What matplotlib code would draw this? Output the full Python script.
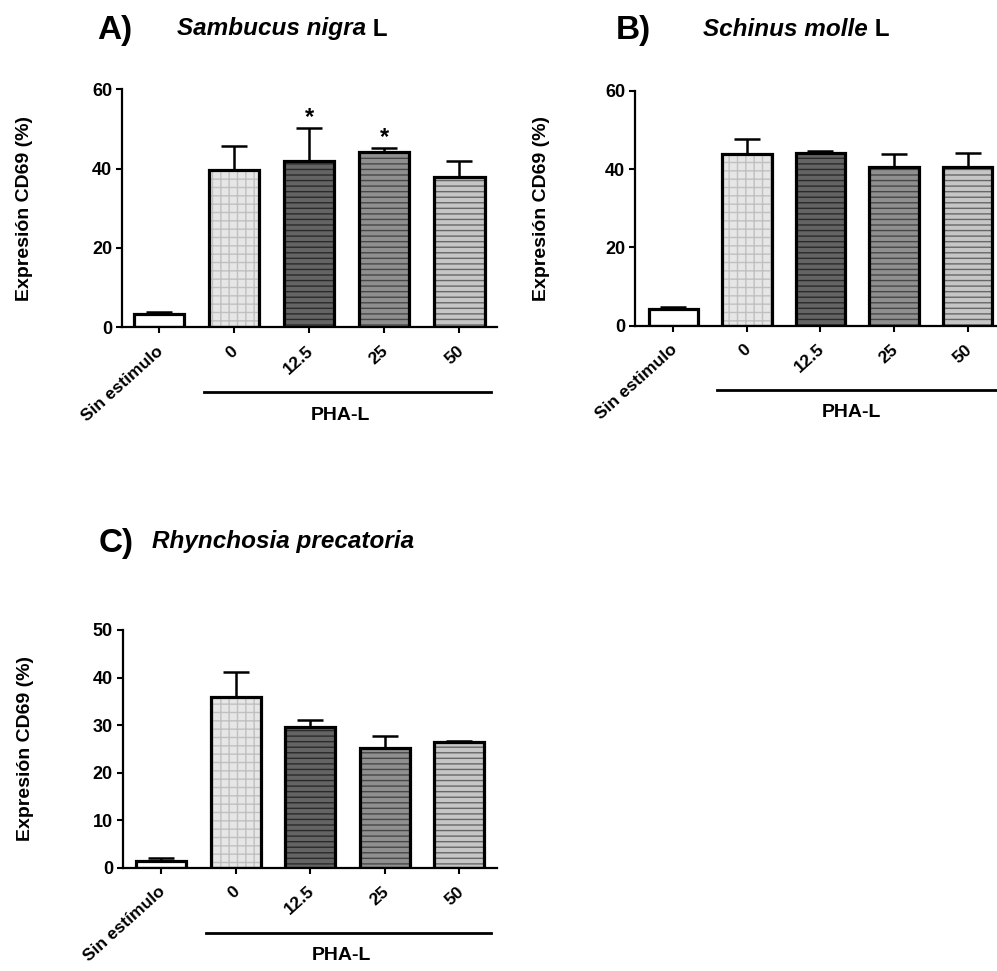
import matplotlib
matplotlib.use('Agg')
import matplotlib.pyplot as plt
import matplotlib.transforms as mtransforms

plt.rcParams['font.family'] = ['Liberation Sans', 'DejaVu Sans']
plt.rcParams['font.weight'] = 'bold'
plt.rcParams['axes.labelweight'] = 'bold'
plt.rcParams['hatch.linewidth'] = 1.0

W, H = 997, 971

# ---------------- data ----------------
categories_AB = ['Sin estimulo', '0', '12.5', '25', '50']
categories_C = ['Sin estímulo', '0', '12.5', '25', '50']
group_label = 'PHA-L'
ylabel = 'Expresión CD69 (%)'

means_A = [3.4, 39.6, 42.0, 44.2, 37.9]
errs_A = [0.5, 6.1, 8.3, 1.0, 4.1]
signif_A = [False, False, True, True, False]

means_B = [4.2, 43.8, 44.2, 40.6, 40.6]
errs_B = [0.5, 3.8, 0.3, 3.2, 3.6]
signif_B = [False, False, False, False, False]

means_C = [1.5, 35.9, 29.5, 25.2, 26.4]
errs_C = [0.6, 5.3, 1.5, 2.5, 0.3]
signif_C = [False, False, False, False, False]

yticks_AB = [0, 20, 40, 60]
yticks_C = [0, 10, 20, 30, 40, 50]

# ---------------- styles ----------------
face_colors = ['white', '#e6e6e6', '#646464', '#8f8f8f', '#c6c6c6']
hatch_colors = ['white', '#c0c0c0', '#2a2a2a', '#474747', '#676767']
hatches = [None, '++', '---', '---', '---']

fig = plt.figure(figsize=(W / 100, H / 100), dpi=100)


def px_axes(l, t, r, b):
    return fig.add_axes([l / W, 1 - b / H, (r - l) / W, (b - t) / H])


panels = [
    dict(box=(122, 89.3, 497, 327.3), xlim=(-0.49, 4.5), means=means_A, errs=errs_A,
         sig=signif_A, cats=categories_AB, yticks=yticks_AB, ylabel_x=33,
         letter='A)', letter_xy=(97, 30), species='Sambucus nigra', suffix=' L',
         species_xy=(177, 29)),
    dict(box=(635, 90.7, 1004.5, 325.7), xlim=(-0.52, 4.5), means=means_B, errs=errs_B,
         sig=signif_B, cats=categories_AB, yticks=yticks_AB, ylabel_x=550,
         letter='B)', letter_xy=(616, 30), species='Schinus molle', suffix=' L',
         species_xy=(703, 29)),
    dict(box=(122.7, 630, 496.7, 867.7), xlim=(-0.52, 4.5), means=means_C, errs=errs_C,
         sig=signif_C, cats=categories_C, yticks=yticks_C, ylabel_x=34,
         letter='C)', letter_xy=(99, 543), species='Rhynchosia precatoria', suffix='',
         species_xy=(152, 541)),
]

label_shift = mtransforms.ScaledTranslation(-3 / 100, -16 / 100, fig.dpi_scale_trans)

for p in panels:
    l, t, r, b = p['box']
    ax = px_axes(l, t, r, b)
    x = list(range(len(p['cats'])))
    ax.set_xlim(*p['xlim'])
    ax.set_ylim(p['yticks'][0], p['yticks'][-1])

    ax.errorbar(x, p['means'], yerr=[[0] * len(x), p['errs']], fmt='none',
                ecolor='black', elinewidth=1.8, capsize=9.5, capthick=1.8, zorder=1)
    for i in x:
        ax.bar(i, p['means'][i], width=0.67, color=face_colors[i],
               edgecolor=hatch_colors[i], hatch=hatches[i], linewidth=0, zorder=2)
    ax.bar(x, p['means'], width=0.67, fill=False, edgecolor='black',
           linewidth=2.3, zorder=3)

    for i in x:
        if p['sig'][i]:
            ax.text(i, p['means'][i] + p['errs'][i] + 2.6, '*', ha='center',
                    va='center', fontsize=17, zorder=4)

    for s in ['top', 'right']:
        ax.spines[s].set_visible(False)
    for s in ['left', 'bottom']:
        ax.spines[s].set_linewidth(1.6)

    ax.set_yticks(p['yticks'])
    ax.set_xticks(x)
    ax.set_xticklabels([])
    trans = mtransforms.blended_transform_factory(ax.transData, ax.transAxes)
    for i, cat in zip(x, p['cats']):
        ax.text(i, 0, cat, transform=trans + label_shift, rotation=42, ha='right',
                va='top', rotation_mode='anchor', fontsize=12.5, clip_on=False)
    ax.tick_params(axis='y', length=4, width=1.5, labelsize=13, pad=3)
    ax.tick_params(axis='x', length=4.5, width=1.5)

    ax.set_ylabel(ylabel, fontsize=14, fontweight='bold')
    ax.yaxis.set_label_coords((p['ylabel_x'] - l) / (r - l), 0.5)

    ax.plot([0.6, 4.42], [-0.273, -0.273], color='black', lw=2.0,
            transform=trans, clip_on=False)
    ax.text(2.42, -0.37, group_label, transform=trans, ha='center', va='center',
            fontsize=14)

    lx, ly = p['letter_xy']
    fig.text(lx / W, 1 - ly / H, p['letter'], fontsize=24, ha='left', va='center')
    sx, sy = p['species_xy']
    st = fig.text(sx / W, 1 - sy / H, p['species'], fontsize=17.5, style='italic',
                  ha='left', va='center')
    if p['suffix']:
        plt.annotate(p['suffix'], xy=(1, 0), xycoords=st, ha='left', va='bottom',
                     fontsize=17.5, annotation_clip=False)

fig.savefig('out.png', dpi=100)
